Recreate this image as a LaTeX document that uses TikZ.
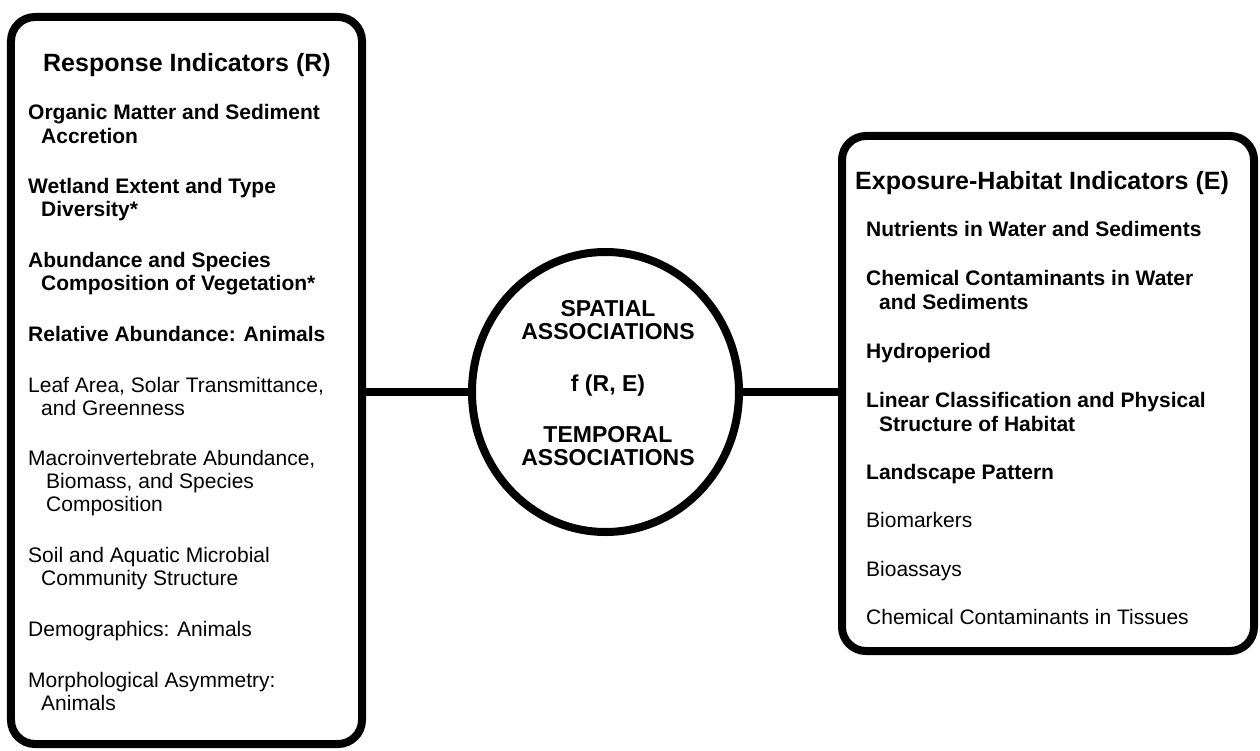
\documentclass[tikz,border=0pt]{standalone}
\usepackage{fontspec}
\setmainfont{Liberation Sans}
\usetikzlibrary{shapes.geometric}

\tikzset{
  frame/.style={draw=black, line width=8bp, rounded corners=24bp, inner sep=0pt, fill=white},
  hub/.style={draw=black, ellipse, line width=8bp, inner sep=0pt, fill=white},
  link/.style={draw=black, line width=8bp},
  heading/.style={anchor=base west, inner sep=0pt, font=\fontsize{25bp}{28bp}\selectfont\bfseries},
  strong/.style={anchor=base west, inner sep=0pt, font=\fontsize{21bp}{23bp}\selectfont\bfseries},
  plain/.style={anchor=base west, inner sep=0pt, font=\fontsize{21bp}{23bp}\selectfont},
  hubtext/.style={anchor=base, inner sep=0pt, font=\fontsize{23bp}{26bp}\selectfont\bfseries},
}

\begin{document}
\begin{tikzpicture}[x=1bp, y=-1bp]
\useasboundingbox (0,0) rectangle (1260,751);

% boxes and central association circle
\node[frame, minimum width=351bp, minimum height=727bp] (resp) at (186.5,380.5) {};
\node[frame, minimum width=412bp, minimum height=515bp] (expo) at (1048,393.5) {};
\node[hub, minimum width=267bp, minimum height=280bp] (assoc) at (605.5,392) {};

% connectors
\draw[link] (assoc.west) -- (assoc.west -| resp.east);
\draw[link] (assoc.east) -- (assoc.east -| expo.west);

% response indicators
\node[heading] (rh) at (43,72) {Response Indicators (R)};
\node[strong] (r1a) at (28,120) {Organic Matter and Sediment};
\node[strong] (r1b) at (41,143) {Accretion};
\node[strong] (r2a) at (28,193.75) {Wetland Extent and Type};
\node[strong] (r2b) at (41,216.75) {Diversity*};
\node[strong] (r3a) at (28,267.5) {Abundance and Species};
\node[strong] (r3b) at (41,290.5) {Composition of Vegetation*};
\node[strong] (r4) at (28,341.25) {Relative Abundance: Animals};
\node[plain] (r5a) at (28,392) {Leaf Area, Solar Transmittance,};
\node[plain] (r5b) at (41,415) {and Greenness};
\node[plain] (r6a) at (28,465.75) {Macroinvertebrate Abundance,};
\node[plain] (r6b) at (46,488.75) {Biomass, and Species};
\node[plain] (r6c) at (46,511.75) {Composition};
\node[plain] (r7a) at (28,562.5) {Soil and Aquatic Microbial};
\node[plain] (r7b) at (41,585.5) {Community Structure};
\node[plain] (r8) at (28,636.25) {Demographics: Animals};
\node[plain] (r9a) at (28,687) {Morphological Asymmetry:};
\node[plain] (r9b) at (41,710) {Animals};

% exposure-habitat indicators
\node[heading] (eh) at (855,189) {Exposure-Habitat Indicators (E)};
\node[strong] (e1) at (866,236) {Nutrients in Water and Sediments};
\node[strong] (e2a) at (866,285) {Chemical Contaminants in Water};
\node[strong] (e2b) at (879,309) {and Sediments};
\node[strong] (e3) at (866,358) {Hydroperiod};
\node[strong] (e4a) at (866,407) {Linear Classification and Physical};
\node[strong] (e4b) at (879,431) {Structure of Habitat};
\node[strong] (e5) at (866,479) {Landscape Pattern};
\node[plain] (e6) at (866,527.5) {Biomarkers};
\node[plain] (e7) at (866,576) {Bioassays};
\node[plain] (e8) at (866,624.5) {Chemical Contaminants in Tissues};

% association text
\node[hubtext] (c1) at (608,316) {SPATIAL};
\node[hubtext] (c2) at (608,339) {ASSOCIATIONS};
\node[hubtext] (c3) at (608,391) {f (R, E)};
\node[hubtext] (c4) at (608,442) {TEMPORAL};
\node[hubtext] (c5) at (608,465) {ASSOCIATIONS};
\end{tikzpicture}
\end{document}
